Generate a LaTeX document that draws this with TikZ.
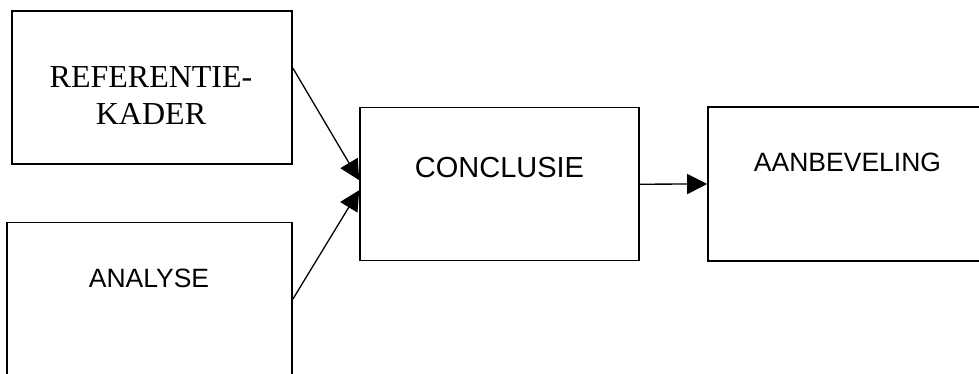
\documentclass[tikz,border=0pt]{standalone}
\usepackage{fontspec}
\setmainfont{Liberation Serif}
\newfontfamily\arialfont{Liberation Sans}
\usepackage{tikz}
\usetikzlibrary{arrows.meta,calc}
\tikzstyle{Box}=[rectangle, draw=black, line width=1.6pt, inner sep=0pt]
\tikzstyle{Lbl}=[inner sep=0pt, anchor=base, align=center]
\tikzstyle{Flow}=[line width=1.3pt, -{Triangle[length=20pt, width=20pt]}]

\begin{document}
\begin{tikzpicture}[x=1pt, y=1pt]
    \clip (0,0) rectangle (979,374);
    \path
    (152,286.5) node[Box, minimum width=280pt, minimum height=153pt] (ref) {}
    (149.5,74.8) node[Box, minimum width=285pt, minimum height=153pt] (ana) {}
    (499.5,189.8) node[Box, minimum width=279pt, minimum height=153pt] (concl) {}
    (847.5,190) node[Box, minimum width=279pt, minimum height=154pt] (aanb) {};

    % two-line label: base sits on the last line
    \path
    (151,249) node[Lbl, font=\fontsize{32}{37}\selectfont] (reftxt) {REFERENTIE-\\KADER}
    (149,86) node[Lbl, font=\arialfont\fontsize{26.5}{30}\selectfont] (anatxt) {ANALYSE}
    (499.5,196) node[Lbl, font=\arialfont\fontsize{29}{33}\selectfont] (concltxt) {CONCLUSIE}
    (847.5,202) node[Lbl, font=\arialfont\fontsize{26.5}{30}\selectfont] (aanbtxt) {AANBEVELING};

    \draw[Flow] ($(ref.east)+(0,19.5)$) -- ($(concl.west)+(0,4)$);
    \draw[Flow] (ana.east) -- ($(concl.west)+(0,-6)$);
    \draw[Flow] (concl.east) -- (aanb.west);
\end{tikzpicture}
\end{document}
